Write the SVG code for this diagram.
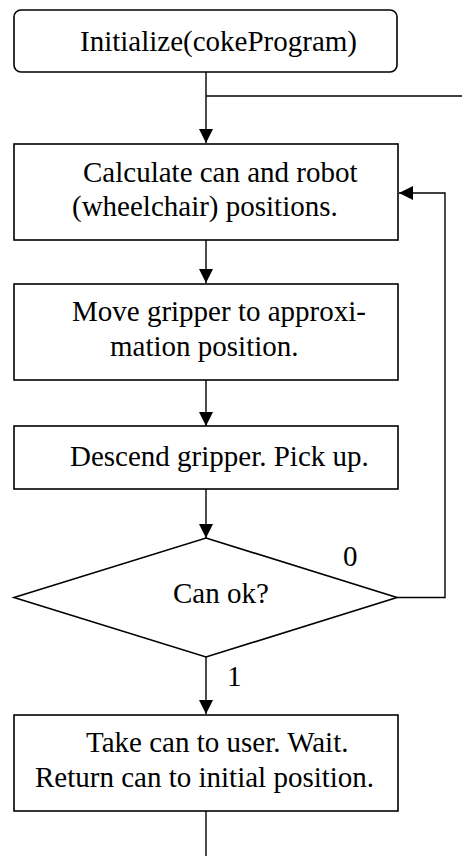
<svg xmlns="http://www.w3.org/2000/svg" width="465" height="856" viewBox="0 0 465 856">
<style>
.box{fill:#fff;stroke:#000;stroke-width:1.6}
.ln{fill:none;stroke:#000;stroke-width:1.4}
.t{font-family:'Liberation Serif','Times New Roman',Times,'DejaVu Serif',serif;font-size:29px;fill:#000}
</style>
<defs>
<marker id="ah" viewBox="0 0 14 14" refX="14" refY="7" markerWidth="14" markerHeight="14" markerUnits="userSpaceOnUse" orient="auto">
<path d="M0,0 L14,7 L0,14 Z" fill="#000"/>
</marker>
</defs>
<rect width="465" height="856" fill="#fff"/>
<g id="connectors">
<path class="ln" d="M206,72 V143" marker-end="url(#ah)"/>
<path class="ln" d="M206,96 H462"/>
<path class="ln" d="M206,240 V283" marker-end="url(#ah)"/>
<path class="ln" d="M206,380 V426" marker-end="url(#ah)"/>
<path class="ln" d="M206,489 V538" marker-end="url(#ah)"/>
<path class="ln" d="M397,597.5 H445 V193 H399" marker-end="url(#ah)"/>
<path class="ln" d="M206,657 V714" marker-end="url(#ah)"/>
<path class="ln" d="M206,811 V856"/>
<text class="t" x="343" y="566">0</text>
<text class="t" x="227" y="686">1</text>
</g>
<g id="init">
<rect class="box" x="14" y="10" width="383" height="62" rx="7"/>
<text class="t" x="80" y="51">Initialize(cokeProgram)</text>
</g>
<g id="calc">
<rect class="box" x="14" y="144" width="384" height="96"/>
<text class="t" x="83" y="182">Calculate can and robot</text>
<text class="t" x="72" y="216">(wheelchair) positions.</text>
</g>
<g id="move">
<rect class="box" x="14" y="284" width="384" height="96"/>
<text class="t" x="72" y="321">Move gripper to approxi-</text>
<text class="t" x="110" y="356">mation position.</text>
</g>
<g id="descend">
<rect class="box" x="14" y="426" width="384" height="63"/>
<text class="t" x="70" y="466">Descend gripper. Pick up.</text>
</g>
<g id="decision">
<path class="box" d="M206,538 L397,597.5 L206,657 L14,597.5 Z"/>
<text class="t" x="173" y="603">Can ok?</text>
</g>
<g id="take">
<rect class="box" x="14" y="715" width="384" height="96"/>
<text class="t" x="86" y="752">Take can to user. Wait.</text>
<text class="t" x="35" y="787">Return can to initial position.</text>
</g>
</svg>
